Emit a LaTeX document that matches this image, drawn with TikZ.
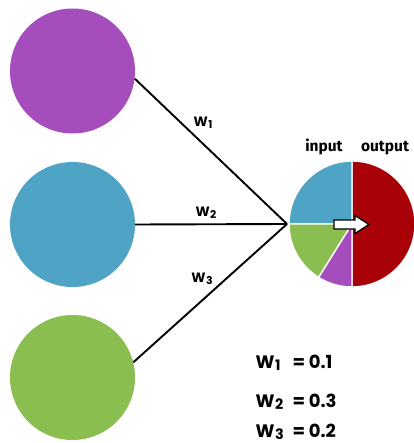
\documentclass[tikz,border=0pt]{standalone}
\usepackage{graphicx}
\usepackage{fontspec}
\setmainfont{Poppins}
\newfontfamily\labfont{Fira Sans}
\definecolor{cpurple}{RGB}{166,77,190}
\definecolor{cblue}{RGB}{79,163,196}
\definecolor{cgreen}{RGB}{139,190,80}
\definecolor{cred}{RGB}{168,2,8}
\newcommand\wsub[1]{W\kern0.03em\raisebox{-0.12em}{\scalebox{0.8}{#1}}}
\begin{document}
\begin{tikzpicture}[x=1pt,y=-1pt,
  neuron/.style={circle,minimum size=125pt,inner sep=0pt,draw=none},
  wire/.style={line width=1.9pt,black},
  wlab/.style={font=\bfseries\fontsize{13.5}{16}\selectfont},
  eqlab/.style={font=\bfseries\fontsize{18}{20}\selectfont,anchor=base west},
  pielab/.style={font=\labfont\bfseries\fontsize{15.5}{17}\selectfont,anchor=base},
  slice/.style={draw=white,line width=1.4pt}]
\useasboundingbox (0,0) rectangle (413,443);
\fill[white] (0,0) rectangle (413,443);

\node[neuron,fill=cpurple] (c1) at (72.5,71) {};
\node[neuron,fill=cblue]   (c2) at (72.5,224.5) {};
\node[neuron,fill=cgreen]  (c3) at (72.5,377.5) {};

\coordinate (p) at (352,224);
\coordinate (hub) at (287,224);

\draw[wire] (c1.-7.5) -- (hub);
\draw[wire] (c2.east) -- (hub);
\draw[wire] (c3.14) -- (hub);

\node[wlab] (l1) at (203,123) {\wsub{1}};
\node[wlab] (l2) at (206,213) {\wsub{2}};
\node[wlab] (l3) at (202,279) {\wsub{3}};

\begin{scope}[shift={(p)},yscale=-1]
  \fill[cred,slice]   (0,0) -- (90:63) arc[start angle=90,end angle=-90,radius=63] -- cycle;
  \fill[cblue,slice]  (0,0) -- (90:63) arc[start angle=90,end angle=180,radius=63] -- cycle;
  \fill[cgreen,slice] (0,0) -- (180:63) arc[start angle=180,end angle=238,radius=63] -- cycle;
  \fill[cpurple,slice](0,0) -- (238:63) arc[start angle=238,end angle=270,radius=63] -- cycle;
\end{scope}

\draw[fill=white,line width=1.3pt,line join=miter]
  (334,220) -- (355,220) -- (355,215.5) -- (369,224.5) -- (355,233.5) -- (355,229) -- (334,229) -- cycle;

\node[pielab] (inp) at (324,152) {input};
\node[pielab] (outp) at (385,152) {output};

\node[eqlab] (e1) at (252,368) {\wsub{1}};
\node[eqlab] (v1) at (289,368) {= 0.1};
\node[eqlab] (e2) at (252,407) {\wsub{2}};
\node[eqlab] (v2) at (289,407) {= 0.3};
\node[eqlab] (e3) at (252,437) {\wsub{3}};
\node[eqlab] (v3) at (289,437) {= 0.2};
\end{tikzpicture}
\end{document}
